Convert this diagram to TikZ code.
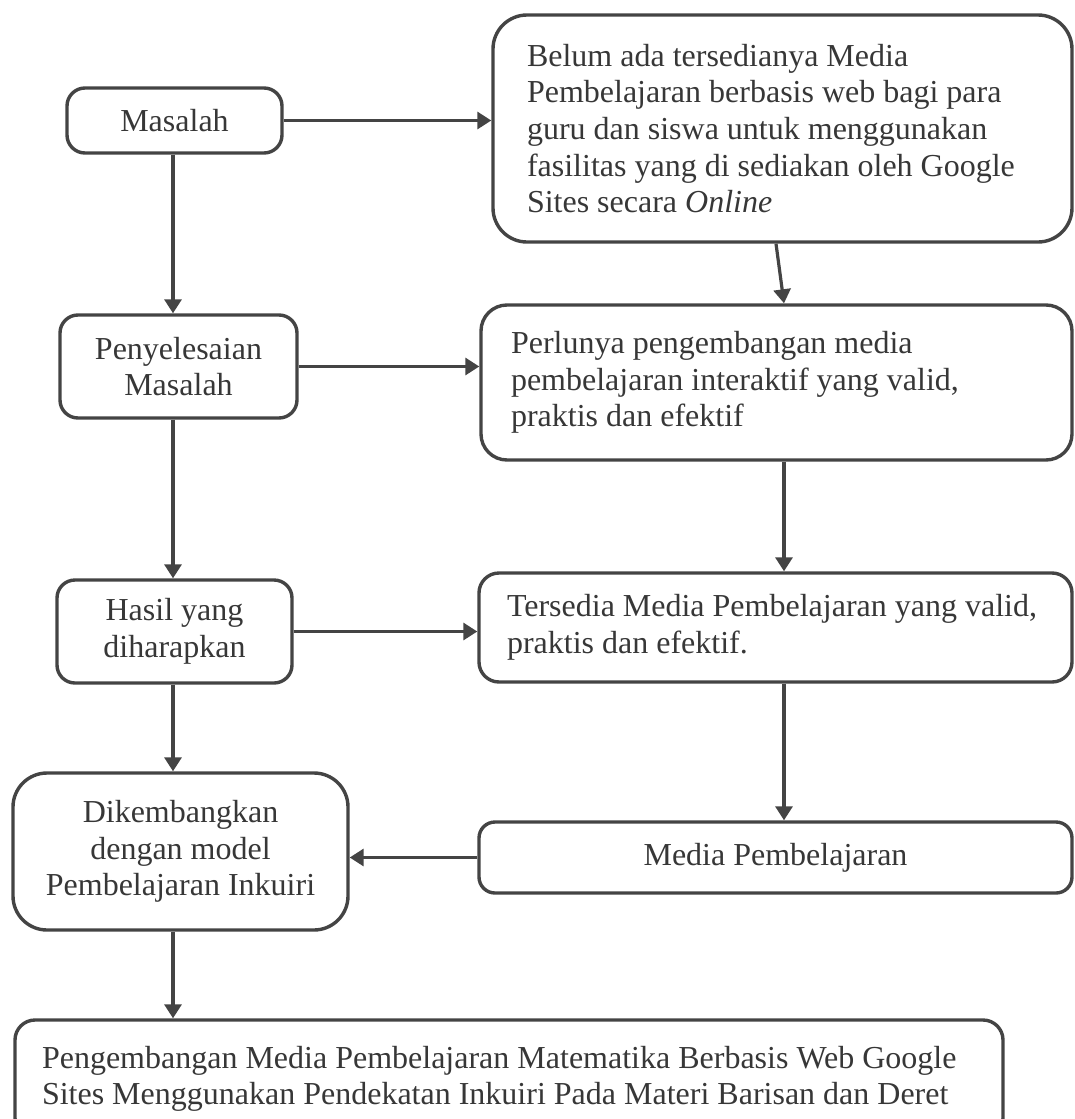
\documentclass[tikz,border=0pt]{standalone}
\usepackage{fontspec}
\setmainfont{Liberation Serif}
\usetikzlibrary{arrows.meta}
\definecolor{linegray}{RGB}{68,68,68}
\definecolor{textgray}{RGB}{55,55,55}
\def\boxfont{\fontsize{32pt}{36.6pt}\selectfont}
\tikzset{
	box/.style={draw=linegray, line width=3.4pt, rounded corners=18pt, inner sep=0pt, align=flush center, text=textgray, font=\boxfont},
	arr/.style={draw=linegray, line width=3.2pt, -{Triangle[length=14pt,width=17pt]}}
}

\begin{document}
\begin{tikzpicture}[x=1pt, y=-1pt]
			%%%%% START %%%%%
			\useasboundingbox (0,0) rectangle (1075,1119);
			\clip (0,0) rectangle (1075,1119);
			
			\coordinate (lcol) at (173,0);
			\coordinate (rcol) at (784,0);
			\coordinate (rtop) at (776,0);
			
			% left column
			\node[box, minimum width=215pt, minimum height=65pt] (masalah) at (174.5,120.5) {Masalah};
			\node[box, minimum width=237pt, minimum height=103pt] (penyelesaian) at (178.5,366.5) {Penyelesaian\\Masalah};
			\node[box, minimum width=235pt, minimum height=103pt] (hasil) at (174.5,631.5) {Hasil yang\\diharapkan};
			\node[box, rounded corners=34pt, minimum width=335pt, minimum height=157pt] (dikembangkan) at (180.5,851.5) {Dikembangkan\\dengan model\\Pembelajaran Inkuiri};
			
			% right column
			\node[box, rounded corners=34pt, align=flush left, inner xsep=34pt, text width=511pt, minimum height=227pt] (belum) at (782.5,128.5) {Belum ada tersedianya Media\\Pembelajaran berbasis web bagi para\\guru dan siswa untuk menggunakan\\fasilitas yang di sediakan oleh Google\\Sites secara \textit{Online}};
			\node[box, rounded corners=26pt, align=flush left, inner xsep=30pt, text width=531pt, minimum height=155pt] (perlunya) at (776.5,382.5) {Perlunya pengembangan media\\pembelajaran interaktif yang valid,\\praktis dan efektif};
			\node[box, rounded corners=20pt, align=flush left, inner xsep=28pt, text width=537pt, minimum height=109pt] (tersedia) at (775.5,627.5) {Tersedia Media Pembelajaran yang valid,\\praktis dan efektif.};
			\node[box, rounded corners=16pt, minimum width=593pt, minimum height=71pt] (media) at (775.5,857.5) {Media Pembelajaran};
			
			% bottom
			\node[box, rounded corners=20pt, align=flush left, inner xsep=27pt, text width=934pt, minimum height=118pt] (pengembangan) at (509,1079) {Pengembangan Media Pembelajaran Matematika Berbasis Web Google\\Sites Menggunakan Pendekatan Inkuiri Pada Materi Barisan dan Deret};
			
			% arrows
			\draw[arr] (masalah.east) -- (masalah.east -| belum.west);
			\draw[arr] (penyelesaian.east) -- (penyelesaian.east -| perlunya.west);
			\draw[arr] (hasil.east) -- (hasil.east -| tersedia.west);
			\draw[arr] (media.west) -- (media.west -| dikembangkan.east);
			
			\draw[arr] (masalah.south -| lcol) -- (penyelesaian.north -| lcol);
			\draw[arr] (penyelesaian.south -| lcol) -- (hasil.north -| lcol);
			\draw[arr] (hasil.south -| lcol) -- (dikembangkan.north -| lcol);
			\draw[arr] (dikembangkan.south -| lcol) -- (pengembangan.north -| lcol);
			
			\draw[arr] (belum.south -| rtop) -- (perlunya.north -| rcol);
			\draw[arr] (perlunya.south -| rcol) -- (tersedia.north -| rcol);
			\draw[arr] (tersedia.south -| rcol) -- (media.north -| rcol);
			
			%%%%% END %%%%%
\end{tikzpicture}
\end{document}
